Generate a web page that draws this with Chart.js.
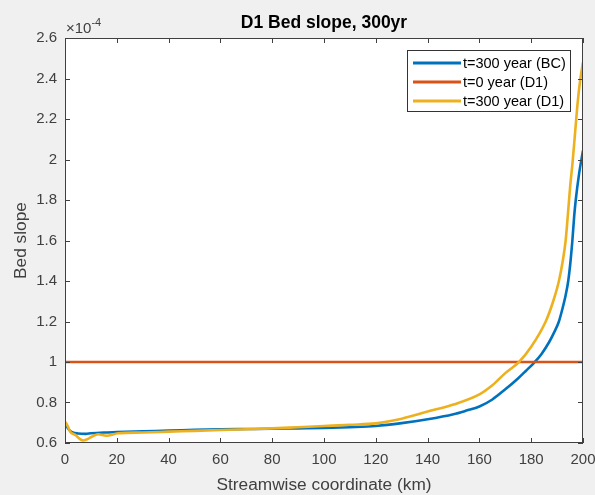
<!DOCTYPE html>
<html>
<head>
<meta charset="utf-8">
<script src="https://cdn.jsdelivr.net/npm/chart.js@4/dist/chart.umd.min.js"></script>
<style>
  html, body { margin: 0; padding: 0; background: #f0f0f0; }
  canvas { display: block; }
</style>
</head>
<body>
<canvas id="chart" width="595" height="495"></canvas>
<script>
// values (bed slope in units of 1e-4)
const kmBC = [0, 1, 2, 3, 5, 8, 10, 15, 20, 30, 40, 50, 60, 70, 80, 90, 100, 110, 120, 130, 140, 150, 155, 160, 165, 170, 175, 178, 181, 184, 187, 189, 190.7, 192, 193.3, 194.3, 195.2, 195.9, 196.6, 197.2, 198.5, 200];
const slopeBC = [0.70, 0.675, 0.66, 0.652, 0.647, 0.645, 0.648, 0.652, 0.654, 0.658, 0.661, 0.665, 0.668, 0.669, 0.670, 0.672, 0.674, 0.678, 0.684, 0.698, 0.717, 0.742, 0.76, 0.78, 0.815, 0.865, 0.92, 0.957, 0.995, 1.04, 1.10, 1.15, 1.2, 1.26, 1.33, 1.4, 1.5, 1.6, 1.72, 1.8, 1.93, 2.045];

const kmD1 = [0, 1, 2, 4, 5.5, 7, 8.5, 10.3, 12.8, 16, 20.5, 30, 40, 50, 60, 70, 80, 90, 100, 110, 120, 130, 140, 150, 160, 165, 170, 175.3, 180, 185.6, 188.5, 190.7, 192.2, 193.3, 194.3, 195, 196, 197, 198, 199, 200];
const slopeD1 = [0.705, 0.685, 0.656, 0.64, 0.622, 0.612, 0.618, 0.631, 0.643, 0.636, 0.648, 0.652, 0.656, 0.66, 0.664, 0.668, 0.672, 0.678, 0.684, 0.69, 0.697, 0.72, 0.755, 0.79, 0.84, 0.885, 0.945, 1.0, 1.075, 1.2, 1.3, 1.4, 1.5, 1.6, 1.75, 1.86, 1.99, 2.14, 2.29, 2.40, 2.48];

const kmInit = [0, 200];
const slopeInit = [1, 1];

const seriesNames = ['t=300 year (BC)', 't=0 year (D1)', 't=300 year (D1)'];
const seriesColors = ['#0072bd', '#d95319', '#edb120'];

const xMin = 0, xMax = 200, xStep = 20;
const yMin = 0.6, yMax = 2.6, yStep = 0.2;

const toPoints = (xs, ys) => xs.map((x, i) => ({ x: x, y: ys[i] }));

const FONT = '"Liberation Sans", Arial, Helvetica, sans-serif';
const AXIS_COLOR = '#404040';

// matlab style axes: white box, inward ticks, title, labels, legend
const matlabAxes = {
  id: 'matlabAxes',
  beforeDraw(chart) {
    const { ctx, chartArea: a } = chart;
    ctx.save();
    ctx.fillStyle = '#f0f0f0';
    ctx.fillRect(0, 0, chart.width, chart.height);
    ctx.fillStyle = '#ffffff';
    ctx.fillRect(a.left, a.top, a.right - a.left, a.bottom - a.top);
    ctx.restore();
  },
  afterDraw(chart) {
    const { ctx, chartArea: a, scales } = chart;
    ctx.save();
    ctx.strokeStyle = AXIS_COLOR;
    ctx.lineWidth = 1;
    ctx.strokeRect(a.left + 0.5, a.top + 0.5, a.right - a.left - 1, a.bottom - a.top - 1);

    const tl = 5;
    ctx.beginPath();
    scales.x.ticks.forEach(t => {
      const px = Math.round(scales.x.getPixelForValue(t.value)) + 0.5;
      ctx.moveTo(px, a.bottom); ctx.lineTo(px, a.bottom - tl);
      ctx.moveTo(px, a.top); ctx.lineTo(px, a.top + tl);
    });
    scales.y.ticks.forEach(t => {
      const py = Math.round(scales.y.getPixelForValue(t.value)) + 0.5;
      ctx.moveTo(a.left, py); ctx.lineTo(a.left + tl, py);
      ctx.moveTo(a.right, py); ctx.lineTo(a.right - tl, py);
    });
    ctx.stroke();

    // exponent
    ctx.fillStyle = AXIS_COLOR;
    ctx.textBaseline = 'alphabetic';
    ctx.textAlign = 'left';
    ctx.font = '15px ' + FONT;
    ctx.fillText('\u00d710', a.left + 1, 33);
    const w = ctx.measureText('\u00d710').width;
    ctx.font = '11px ' + FONT;
    ctx.fillText('-4', a.left + 1 + w, 26);

    // title
    const cx = (a.left + a.right) / 2;
    ctx.fillStyle = '#000000';
    ctx.textAlign = 'center';
    ctx.font = 'bold 17.5px ' + FONT;
    ctx.fillText('D1 Bed slope, 300yr', cx, 28);

    // axis labels
    ctx.fillStyle = AXIS_COLOR;
    ctx.font = '17.3px ' + FONT;
    ctx.fillText('Streamwise coordinate (km)', cx, 490);
    ctx.save();
    ctx.translate(26, (a.top + a.bottom) / 2);
    ctx.rotate(-Math.PI / 2);
    ctx.fillText('Bed slope', 0, 0);
    ctx.restore();

    // legend
    const lx = 407, ly = 50, lw = 164, lh = 62;
    ctx.fillStyle = '#ffffff';
    ctx.fillRect(lx, ly, lw, lh);
    ctx.strokeStyle = '#333333';
    ctx.lineWidth = 1;
    ctx.strokeRect(lx + 0.5, ly + 0.5, lw - 1, lh - 1);
    ctx.font = '14.5px ' + FONT;
    ctx.textAlign = 'left';
    ctx.textBaseline = 'middle';
    seriesNames.forEach((name, i) => {
      const yy = ly + 13 + i * 19;
      ctx.strokeStyle = seriesColors[i];
      ctx.lineWidth = 3;
      ctx.beginPath();
      ctx.moveTo(lx + 6, yy); ctx.lineTo(lx + 54, yy);
      ctx.stroke();
      ctx.fillStyle = '#000000';
      ctx.fillText(name, lx + 56, yy + 1);
    });
    ctx.restore();
  }
};

const lineDefaults = { showLine: true, pointRadius: 0, borderWidth: 2.6, fill: false, cubicInterpolationMode: 'monotone' };

const fmtTick = v => String(Number(v.toFixed(2)));

new Chart(document.getElementById('chart'), {
  type: 'scatter',
  data: {
    datasets: [
      Object.assign({ label: seriesNames[0], data: toPoints(kmBC, slopeBC), borderColor: seriesColors[0], order: 2 }, lineDefaults),
      Object.assign({ label: seriesNames[1], data: toPoints(kmInit, slopeInit), borderColor: seriesColors[1], order: 1 }, lineDefaults),
      Object.assign({ label: seriesNames[2], data: toPoints(kmD1, slopeD1), borderColor: seriesColors[2], order: 0 }, lineDefaults)
    ]
  },
  options: {
    responsive: false,
    animation: false,
    devicePixelRatio: 1,
    layout: { padding: { top: 38, right: 12, left: 0, bottom: 0 } },
    plugins: { legend: { display: false }, title: { display: false }, tooltip: { enabled: false } },
    scales: {
      x: {
        type: 'linear', min: xMin, max: xMax,
        ticks: { stepSize: xStep, color: AXIS_COLOR, font: { family: FONT, size: 15 }, padding: 8, maxRotation: 0, callback: fmtTick },
        grid: { display: false, drawTicks: false },
        border: { display: false },
        afterFit(s) { s.height = 52; s.paddingLeft = 0; s.paddingRight = 0; }
      },
      y: {
        type: 'linear', min: yMin, max: yMax,
        ticks: { stepSize: yStep, color: AXIS_COLOR, font: { family: FONT, size: 15 }, padding: 8, callback: fmtTick },
        grid: { display: false, drawTicks: false },
        border: { display: false },
        afterFit(s) { s.width = 65; s.paddingTop = 0; s.paddingBottom = 0; }
      }
    }
  },
  plugins: [matlabAxes]
});
</script>
</body>
</html>
